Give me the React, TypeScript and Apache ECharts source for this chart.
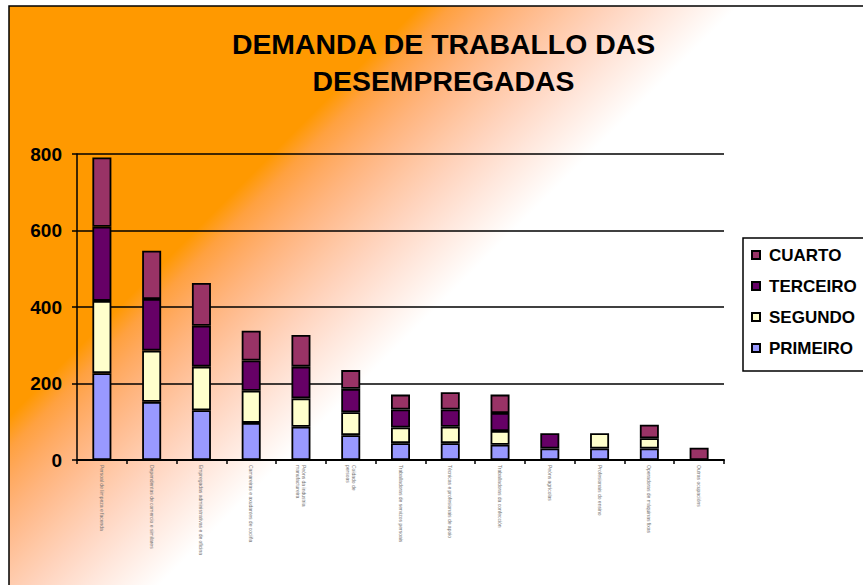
import React, { useEffect, useRef } from "react";
import * as echarts from "echarts";

const categories = [
  "Persoal de limpeza e facenda",
  "Dependentas de comercio e similares",
  "Empregadas administrativas e de oficina",
  "Camareiras e axudantes de cociña",
  "Peóns da industria\nmanufactureira",
  "Coidado de\npersoas",
  "Traballadoras de servizos persoais",
  "Técnicas e profesionais de apoio",
  "Traballadoras da confección",
  "Peóns agrícolas",
  "Profesionais do ensino",
  "Operadoras de máquinas fixas",
  "Outras ocupacións",
];

const primeiro = [227, 152, 130, 97, 87, 65, 44, 44, 40, 30, 30, 30, null];
const segundo = [189, 134, 114, 84, 74, 60, 41, 43, 36, null, 40, 27, null];
const terceiro = [194, 135, 107, 79, 83, 61, 47, 45, 47, 40, null, null, null];
const cuarto = [181, 126, 112, 78, 83, 49, 39, 45, 48, null, null, 35, 32];

const yTicks = { min: 0, max: 800, interval: 200 };
const legendOrder = ["CUARTO", "TERCEIRO", "SEGUNDO", "PRIMEIRO"];

const FONT = '"Liberation Sans", Arial, sans-serif';

export default function App() {
  const ref = useRef<HTMLDivElement>(null);
  useEffect(() => {
    document.body.style.margin = "0";
    const chart = echarts.init(ref.current!, null, { renderer: "svg" });
    const mk = (name: string, data: (number | null)[], color: string) => ({
      name,
      type: "bar",
      stack: "total",
      data,
      barWidth: 19,
      itemStyle: { color, borderColor: "#000", borderWidth: 1.8 },
    });
    const bgGradient = new echarts.graphic.LinearGradient(
      213,
      213,
      372,
      372,
      [
        { offset: 0, color: "#FF9900" },
        { offset: 0.1, color: "#FFA140" },
        { offset: 0.2, color: "#FFAA61" },
        { offset: 0.3, color: "#FFB47C" },
        { offset: 0.4, color: "#FFBE93" },
        { offset: 0.5, color: "#FFC9A8" },
        { offset: 0.6, color: "#FFD3BC" },
        { offset: 0.7, color: "#FFDECE" },
        { offset: 0.8, color: "#FFE9DF" },
        { offset: 0.9, color: "#FFF4EF" },
        { offset: 1, color: "#FFFFFF" },
      ],
      true
    );
    const titleStyle = {
      fontSize: 28.4,
      fontWeight: "bold",
      fontFamily: FONT,
      fill: "#000",
      align: "center",
      verticalAlign: "middle",
    };
    chart.setOption({
      animation: false,
      backgroundColor: "#fff",
      graphic: [
        {
          type: "rect",
          z: -10,
          silent: true,
          shape: { x: 9, y: 6, width: 900, height: 620 },
          style: { fill: bgGradient, stroke: "#000", lineWidth: 1.5 },
        },
        {
          type: "text",
          x: 443.5,
          y: 44,
          silent: true,
          style: { ...titleStyle, text: "DEMANDA DE TRABALLO DAS" },
        },
        {
          type: "text",
          x: 443.5,
          y: 81,
          silent: true,
          style: { ...titleStyle, text: "DESEMPREGADAS" },
        },
      ],
      legend: {
        data: legendOrder,
        orient: "vertical",
        left: 743,
        top: 238,
        padding: [8, 10, 14, 8],
        itemGap: 13,
        itemWidth: 8,
        itemHeight: 8,
        icon: "rect",
        backgroundColor: "#fff",
        borderColor: "#000",
        borderWidth: 1.5,
        textStyle: {
          fontSize: 17,
          fontWeight: "bold",
          fontFamily: FONT,
          color: "#000",
          lineHeight: 18,
          padding: [0, 0, 0, 4],
        },
      },
      grid: { left: 77, right: 139, top: 154, bottom: 125, containLabel: false },
      xAxis: {
        type: "category",
        data: categories,
        axisLine: { lineStyle: { color: "#000", width: 2 } },
        axisTick: { show: true, length: 4, lineStyle: { color: "#000", width: 1.5 } },
        axisLabel: {
          interval: 0,
          rotate: -90,
          fontSize: 5,
          color: "#777",
          fontFamily: FONT,
          margin: 5,
          lineHeight: 6,
        },
      },
      yAxis: {
        type: "value",
        min: yTicks.min,
        max: yTicks.max,
        interval: yTicks.interval,
        axisLine: { show: true, lineStyle: { color: "#000", width: 1.5 } },
        axisTick: { show: true, length: 5, lineStyle: { color: "#000", width: 1.5 } },
        axisLabel: {
          fontSize: 19,
          fontWeight: "bold",
          fontFamily: FONT,
          color: "#000",
          margin: 15,
        },
        splitLine: { show: true, lineStyle: { color: "#000", width: 1.5 } },
      },
      series: [
        mk("PRIMEIRO", primeiro, "#9999FF"),
        mk("SEGUNDO", segundo, "#FFFFCC"),
        mk("TERCEIRO", terceiro, "#660066"),
        mk("CUARTO", cuarto, "#993366"),
      ],
    });
    return () => chart.dispose();
  }, []);
  return <div ref={ref} style={{ width: 863, height: 585 }} />;
}
